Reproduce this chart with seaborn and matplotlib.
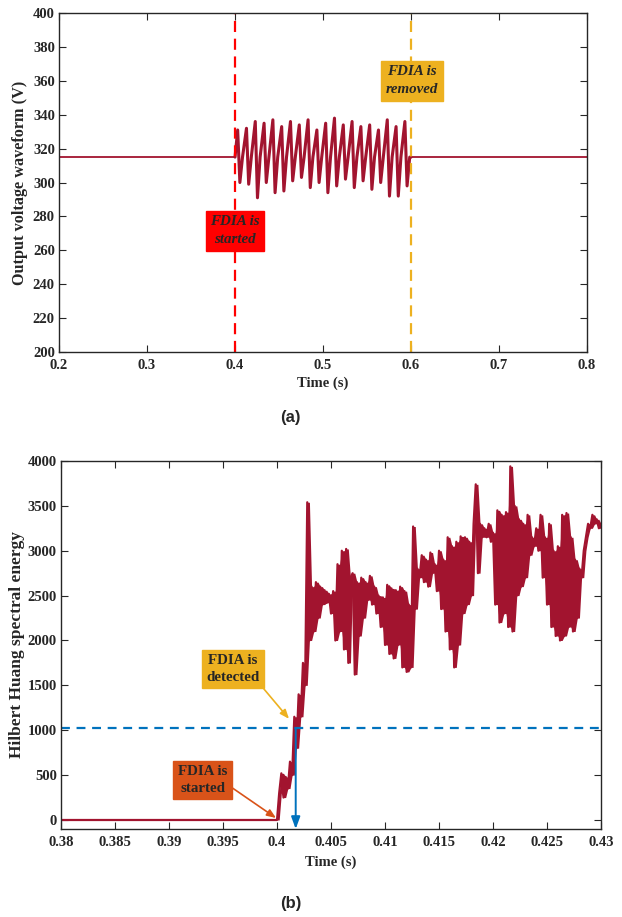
# FDIA detection figure: (a) output voltage, (b) Hilbert Huang spectral energy
import numpy as np
import pandas as pd
import matplotlib
matplotlib.use('Agg')
import matplotlib.pyplot as plt
import seaborn as sns

sns.set_theme(style='ticks')
plt.rcParams['font.family'] = ['Liberation Serif', 'DejaVu Serif']
plt.rcParams['font.weight'] = 'bold'

DARK_RED = '#A2142F'
BLUE = '#0072BD'
GOLD = '#EDB120'
ORANGE = '#D95319'

# ---- (a) voltage waveform data ----
v_nominal = 315
attack_start = 0.4
attack_end = 0.6
# peak / trough of each ~10 ms cycle while the attack is active
v_peaks = [331, 332, 336, 335, 337, 333, 336, 334, 337, 331,
           335, 338, 334, 336, 333, 334, 331, 337, 333, 336]
v_troughs = [300, 299, 291, 300, 294, 295, 301, 303, 297, 300,
             294, 298, 302, 297, 301, 296, 300, 292, 292, 298]

# ---- (b) spectral energy data ----
e_base_time = [0.38, 0.4]
e_base = [0, 0]
e_start = 0.4
e_step = 0.0002
e_vals = [0, 300, 520, 250, 480, 350, 650, 500, 1150, 800,
          1400, 1150, 1750, 1500, 3540, 2000, 2600, 2100, 2650, 2250,
          2600, 2400, 2560, 2420, 2520, 2300, 2550, 2000, 2850, 2100,
          3000, 1900, 3020, 1750, 2700, 2750, 1620, 2650, 2050, 2700,
          2250, 2650, 2450, 2720, 2400, 2600, 2300, 2500, 2150, 2480,
          1950, 2620, 1850, 2580, 1800, 2560, 1950, 2600, 1700, 2550,
          1650, 2400, 1700, 3270, 2350, 2800, 2700, 2950, 2650, 2900,
          2600, 2980, 2750, 2850, 2550, 3000, 2350, 2900, 2100, 3150,
          1900, 3050, 1700, 3100, 1950, 3160, 2300, 3150, 2400, 3100,
          2500, 3300, 3740, 2750, 3300, 3150, 3250, 3150, 3300, 3100,
          3200, 2400, 3450, 2200, 3400, 2300, 3430, 2150, 3940, 2100,
          3500, 2500, 3350, 2600, 3300, 2700, 3400, 2950, 3150, 3050,
          3250, 3000, 3400, 2700, 3150, 2400, 3300, 2150, 3000, 2050,
          3050, 2000, 3400, 2050, 3420, 2150, 3150, 2100, 2900, 2250,
          2800, 2700, 3000, 3150, 3300, 3250, 3400, 3300, 3350, 3250,
          3300]
threshold = 1020
detect_time = 0.40173


def style_axes(ax):
    ax.tick_params(direction='in', top=True, right=True, length=5,
                   width=0.8, labelsize=10.5, colors='#262626')
    ax.tick_params(axis='x', pad=5)
    ax.tick_params(axis='y', pad=3)
    for s in ax.spines.values():
        s.set_linewidth(1.0)
        s.set_color('#262626')
    for lab in ax.get_xticklabels() + ax.get_yticklabels():
        lab.set_fontweight('bold')


fig = plt.figure(figsize=(6.22, 9.17), dpi=100)

# ================= (a) =================
ax1 = fig.add_axes([0.0949, 0.6161, 0.8489, 0.3697])

t_osc = [attack_start]
v_osc = [v_nominal]
for i in range(len(v_peaks)):
    t0 = attack_start + 0.01 * i
    t_osc += [t0 + 0.003, t0 + 0.0055, t0 + 0.0085]
    v_osc += [v_peaks[i], v_troughs[i], v_nominal]
t_osc += [attack_end]
v_osc += [v_nominal]
df_osc = pd.DataFrame({'t': t_osc, 'v': v_osc})
df_flat = pd.DataFrame({'t': [0.2, attack_start, np.nan, attack_end, 0.8],
                        'v': [v_nominal, v_nominal, np.nan, v_nominal, v_nominal]})
ax1.plot(df_flat['t'], df_flat['v'], color=DARK_RED, lw=1.3)
sns.lineplot(data=df_osc, x='t', y='v', ax=ax1, color=DARK_RED, lw=2.2,
             estimator=None, sort=False)

ax1.axvline(attack_start, color='#FF0000', lw=1.6, dashes=(5, 3))
ax1.axvline(attack_end, color=GOLD, lw=1.6, dashes=(5, 3))

ax1.text(0.4, 271.5, 'FDIA is\nstarted', ha='center', va='center',
         fontsize=10.8, fontstyle='italic', fontweight='bold', linespacing=1.5,
         bbox=dict(boxstyle='square,pad=0.3', fc='#FF0000', ec='#FF0000'))
ax1.text(0.601, 360, 'FDIA is\nremoved', ha='center', va='center',
         fontsize=10.8, fontstyle='italic', fontweight='bold', linespacing=1.5,
         bbox=dict(boxstyle='square,pad=0.3', fc=GOLD, ec=GOLD))

ax1.set_xlim(0.2, 0.8)
ax1.set_ylim(200, 400)
ax1.set_xticks(np.arange(0.2, 0.81, 0.1))
ax1.set_xticklabels(['0.2', '0.3', '0.4', '0.5', '0.6', '0.7', '0.8'])
ax1.set_yticks(np.arange(200, 401, 20))
ax1.set_xlabel('Time (s)', fontsize=10.5, fontweight='bold', labelpad=3)
ax1.set_ylabel('Output voltage waveform (V)', fontsize=11.7, fontweight='bold')
ax1.yaxis.set_label_coords(-0.059, 0.5)
style_axes(ax1)

fig.text(0.467, 0.545, '(a)', ha='center', va='center', fontsize=12,
         fontweight='bold', family='Liberation Sans')

# ================= (b) =================
ax2 = fig.add_axes([0.0981, 0.0960, 0.8682, 0.4013])

t_b = e_base_time + [e_start + e_step * k for k in range(len(e_vals))]
v_b = e_base + e_vals
df_b = pd.DataFrame({'t': t_b, 'e': v_b})
# solid band covering the fast oscillation between neighbouring samples
band_lo = df_b['e'].rolling(2, min_periods=1).min()
band_hi = df_b['e'].rolling(2, min_periods=1).max()
ax2.fill_between(df_b['t'], band_lo, band_hi, color=DARK_RED, lw=0)
sns.lineplot(data=df_b, x='t', y='e', ax=ax2, color=DARK_RED, lw=1.6,
             estimator=None, sort=False)

ax2.axhline(threshold, color=BLUE, lw=1.6, dashes=(4, 3))
ax2.annotate('', xy=(detect_time, -100), xytext=(detect_time, threshold),
             arrowprops=dict(arrowstyle='-|>,head_length=0.6,head_width=0.22',
                             color=BLUE, lw=1.4, shrinkA=0, shrinkB=0))

ax2.annotate('FDIA is\ndetected', xy=(0.40111, 1127), xytext=(0.39593, 1680),
             ha='center', va='center', fontsize=10.8, fontweight='bold',
             linespacing=1.35,
             bbox=dict(boxstyle='square,pad=0.3', fc=GOLD, ec=GOLD),
             arrowprops=dict(arrowstyle='-|>,head_length=0.5,head_width=0.2',
                             color=GOLD, lw=1.2, shrinkA=0, shrinkB=0,
                             relpos=(1.0, 0.0)))
ax2.annotate('FDIA is\nstarted', xy=(0.39991, 22), xytext=(0.39310, 446),
             ha='center', va='center', fontsize=10.8, fontweight='bold',
             linespacing=1.35,
             bbox=dict(boxstyle='square,pad=0.3', fc=ORANGE, ec=ORANGE),
             arrowprops=dict(arrowstyle='-|>,head_length=0.5,head_width=0.2',
                             color=ORANGE, lw=1.2, shrinkA=0, shrinkB=0,
                             relpos=(1.0, 0.35)))

ax2.set_xlim(0.38, 0.43)
ax2.set_ylim(-100, 4000)
ax2.set_xticks(np.arange(0.38, 0.4301, 0.005))
ax2.set_xticklabels(['0.38', '0.385', '0.39', '0.395', '0.4', '0.405',
                     '0.41', '0.415', '0.42', '0.425', '0.43'])
ax2.set_yticks(np.arange(0, 4001, 500))
ax2.set_xlabel('Time (s)', fontsize=10.5, fontweight='bold', labelpad=5)
ax2.set_ylabel('Hilbert Huang spectral energy', fontsize=12.5, fontweight='bold')
ax2.yaxis.set_label_coords(-0.067, 0.5)
style_axes(ax2)

fig.text(0.467, 0.015, '(b)', ha='center', va='center', fontsize=12,
         fontweight='bold', family='Liberation Sans')

fig.savefig('out.png', dpi=100)
